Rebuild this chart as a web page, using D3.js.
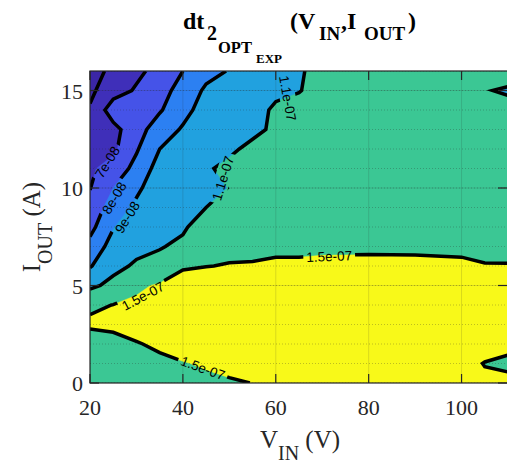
<!DOCTYPE html>
<html><head><meta charset="utf-8">
<script src="https://cdn.jsdelivr.net/npm/d3@7"></script>
<style>body{margin:0;background:#fff}svg{display:block}</style>
</head><body>
<svg id="chart" width="507" height="474"></svg>
<script>
// ---------- data ----------
const vinValues = [20, 25, 30, 35, 40, 45, 50, 55, 60, 65, 70, 80, 90, 100, 105, 110];
const ioutValues = [0, 1, 2, 3, 4, 5, 6, 7, 8, 9, 10, 11, 12, 13, 14, 15, 16];
// dt2_OPT_EXP in ns, one profile (I_OUT = 0..16 A) per V_IN column
const dt2V20  = [123, 125, 130, 156, 144, 102, 89, 83, 77, 73, 69.7, 68.5, 67, 65, 61, 58, 55];
const dt2V25  = [126, 130, 138, 158, 150.5, 120, 100, 94, 89.5, 85, 80, 74, 68, 67, 75, 66, 63];
const dt2V30  = [130, 138, 148.5, 160, 156, 144, 115, 100, 96, 92, 88, 83, 79, 76, 73, 71, 68];
const dt2V35  = [133, 145, 154, 162, 160, 154, 120, 108, 102, 98, 96, 94, 90, 85, 79, 76, 73];
const dt2V40  = [146, 149, 158, 163, 163, 158, 148, 116, 106, 102, 100, 98, 95, 91, 87, 84, 80];
const dt2V45  = [146, 152, 160, 164, 165, 162, 149.5, 140, 125, 110, 105, 108, 100, 97, 94, 91.5, 87];
const dt2V50  = [148.5, 154, 161, 165, 166, 164, 151, 145, 135, 123, 110.5, 114, 107, 102, 98, 94, 90.5];
const dt2V55  = [150.2, 156, 162, 166, 167, 165, 151.5, 145, 138, 130, 124, 119, 114, 106, 103, 100, 97];
const dt2V60  = [155, 160, 164, 167, 168, 166, 154, 145, 139, 133, 128, 124, 120, 113, 113, 106, 107];
const dt2V65  = [156, 160, 164, 167, 168, 166, 155, 144, 139, 135, 132, 130, 128, 124, 118, 109, 108];
const dt2V70  = [157, 161, 165, 168, 169, 167, 156, 145, 140, 137, 134, 132, 130, 127, 124, 118, 116];
const dt2V80  = [158, 162, 166, 169, 170, 168, 157, 145, 141, 138, 136, 134, 132, 130, 128, 125, 123];
const dt2V90  = [158, 162, 166, 169, 170, 168, 156.5, 145, 141, 138, 136, 134, 132, 130, 128, 125, 123];
const dt2V100 = [157, 161, 165, 168, 169, 167, 155, 144, 140, 137, 135, 133, 131, 128, 124, 120, 120];
const dt2V105 = [156, 148.8, 164, 167, 168, 165, 151.5, 142, 139, 136, 134, 132, 130, 127, 123, 112.6, 118];
const dt2V110 = [159, 143, 159.3, 166, 167, 164, 151.5, 141, 138, 135, 133, 131, 129, 127, 125, 105, 130];
const dt2ByVin = [dt2V20, dt2V25, dt2V30, dt2V35, dt2V40, dt2V45, dt2V50, dt2V55, dt2V60,
                  dt2V65, dt2V70, dt2V80, dt2V90, dt2V100, dt2V105, dt2V110];
const contourLevels = [6e-8, 7e-8, 8e-8, 9e-8, 1.1e-7, 1.5e-7];
const bandColors = ["#3b26a6", "#3f2fb9", "#4553e8", "#2c80f2", "#21a1df", "#3bc794", "#f8f919"];
const xTickValues = [20, 40, 60, 80, 100];
const yTickValues = [0, 5, 10, 15];
// contour labels: level, position (V_IN, I_OUT) and text angle
const contourLabelLevels = [7e-8, 8e-8, 9e-8, 1.1e-7, 1.1e-7, 1.5e-7, 1.5e-7, 1.5e-7];
const contourLabelVin    = [23.7, 25.2, 28.0, 48.6, 62.6, 31.4, 44.3, 71.5];
const contourLabelIout   = [11.33, 9.49, 8.5, 10.5, 14.6, 4.46, 0.77, 6.5];
const contourLabelAngle  = [-58, -59, -58, -73, 80, -28, 20, -2];

// ---------- layout ----------
const svg = d3.select("#chart");
const x = d3.scaleLinear().domain([20, 110]).range([90, 508]);
const y = d3.scaleLinear().domain([0, 16]).range([383, 71]);
const nx = vinValues.length, ny = ioutValues.length;
const idxToVin = d3.scaleLinear().domain(d3.range(nx)).range(vinValues);
const idxToIout = d3.scaleLinear().domain(d3.range(ny)).range(ioutValues);

const grid = new Array(nx * ny);
for (let j = 0; j < ny; j++) for (let i = 0; i < nx; i++) grid[j * nx + i] = dt2ByVin[i][j] * 1e-9;

const clampIdx = (g, n) => Math.max(0, Math.min(n - 1, g - 0.5));
const toPx = (p) => [x(idxToVin(clampIdx(p[0], nx))), y(idxToIout(clampIdx(p[1], ny)))];
const proj = d3.geoTransform({point(px, py) { const q = toPx([px, py]); this.stream.point(q[0], q[1]); }});
const geo = d3.geoPath(proj);

const contours = d3.contours().size([nx, ny]).thresholds(contourLevels)(grid);

const defs = svg.append("defs");
defs.append("clipPath").attr("id", "plotclip").append("rect")
  .attr("x", 90).attr("y", 71).attr("width", 418).attr("height", 312);

const plot = svg.append("g").attr("clip-path", "url(#plotclip)");
plot.append("rect").attr("x", 90).attr("y", 71).attr("width", 418).attr("height", 312)
  .attr("fill", bandColors[0]);
plot.selectAll("path.band").data(contours).join("path").attr("class", "band")
  .attr("d", geo).attr("fill", (d, k) => bandColors[k + 1]).attr("fill-rule", "evenodd")
  .attr("stroke", (d, k) => bandColors[k + 1]).attr("stroke-width", 0.5);

// grid
const gridG = plot.append("g");
gridG.selectAll("line.ymin").data(y.ticks(16)).join("line")
  .attr("x1", 90).attr("x2", 508).attr("y1", d => y(d)).attr("y2", d => y(d))
  .attr("stroke", "rgba(38,38,38,0.28)").attr("stroke-width", 1).attr("stroke-dasharray", "1,2");
gridG.selectAll("line.ymaj").data(yTickValues).join("line")
  .attr("x1", 90).attr("x2", 508).attr("y1", d => y(d)).attr("y2", d => y(d))
  .attr("stroke", "rgba(38,38,38,0.15)").attr("stroke-width", 1);
gridG.selectAll("line.xmaj").data(xTickValues).join("line")
  .attr("y1", 71).attr("y2", 383).attr("x1", d => x(d)).attr("x2", d => x(d))
  .attr("stroke", "rgba(38,38,38,0.15)").attr("stroke-width", 1);

// contour labels (text) and line mask
const fmt = v => v.toExponential(v === 1.1e-7 || v === 1.5e-7 ? 1 : 0).replace(/e([+-])(\d)$/, "e$10$2");
const labelG = svg.append("g").attr("clip-path", "url(#plotclip)");
const labels = labelG.selectAll("text").data(contourLabelLevels).join("text")
  .attr("transform", (d, i) => `translate(${x(contourLabelVin[i])},${y(contourLabelIout[i])}) rotate(${contourLabelAngle[i]})`)
  .attr("text-anchor", "middle").attr("dy", "0.36em")
  .attr("font-family", "Liberation Sans, Arial, sans-serif").attr("font-size", 13.5)
  .attr("fill", "#000").text(d => fmt(d));

const mask = defs.append("mask").attr("id", "lblmask").attr("maskUnits", "userSpaceOnUse")
  .attr("x", 0).attr("y", 0).attr("width", 507).attr("height", 474);
mask.append("rect").attr("x", 0).attr("y", 0).attr("width", 507).attr("height", 474).attr("fill", "#fff");
labels.each(function(d, i) {
  const w = this.getComputedTextLength() + 6;
  mask.append("rect").attr("x", -w / 2).attr("y", -8).attr("width", w).attr("height", 16)
    .attr("transform", `translate(${x(contourLabelVin[i])},${y(contourLabelIout[i])}) rotate(${contourLabelAngle[i]})`)
    .attr("fill", "#000");
});

// contour lines (skip segments lying on the plot border)
function linePath(c) {
  let d = "";
  for (const poly of c.coordinates) for (const ring of poly) {
    let pen = false;
    for (let k = 0; k < ring.length - 1; k++) {
      const a = ring[k], b = ring[k + 1];
      const ax = clampIdx(a[0], nx), ay = clampIdx(a[1], ny), bx = clampIdx(b[0], nx), by = clampIdx(b[1], ny);
      const onBorder = (ax === 0 && bx === 0) || (ax === nx - 1 && bx === nx - 1) ||
                       (ay === 0 && by === 0) || (ay === ny - 1 && by === ny - 1);
      if (onBorder) { pen = false; continue; }
      const pa = toPx(a), pb = toPx(b);
      if (!pen) { d += `M${pa[0]},${pa[1]}`; pen = true; }
      d += `L${pb[0]},${pb[1]}`;
    }
  }
  return d;
}
const linesG = plot.append("g").attr("mask", "url(#lblmask)");
linesG.selectAll("path").data(contours).join("path")
  .attr("d", linePath).attr("fill", "none").attr("stroke", "#000")
  .attr("stroke-width", 3.5).attr("stroke-linejoin", "miter").attr("stroke-miterlimit", 4);
labelG.raise();

// frame and ticks
const axisColor = "#262626";
svg.append("rect").attr("x", 90).attr("y", 71).attr("width", 418).attr("height", 312)
  .attr("fill", "none").attr("stroke", axisColor).attr("stroke-width", 1.2);
const tl = 9;
svg.selectAll("line.xtb").data(xTickValues).join("line")
  .attr("x1", d => x(d)).attr("x2", d => x(d)).attr("y1", 383).attr("y2", 383 - tl)
  .attr("stroke", axisColor).attr("stroke-width", 1.2);
svg.selectAll("line.xtt").data(xTickValues).join("line")
  .attr("x1", d => x(d)).attr("x2", d => x(d)).attr("y1", 71).attr("y2", 71 + tl)
  .attr("stroke", axisColor).attr("stroke-width", 1.2);
svg.selectAll("line.ytl").data(yTickValues).join("line")
  .attr("y1", d => y(d)).attr("y2", d => y(d)).attr("x1", 90).attr("x2", 90 + tl)
  .attr("stroke", axisColor).attr("stroke-width", 1.2);
svg.selectAll("line.ytr").data(yTickValues).join("line")
  .attr("y1", d => y(d)).attr("y2", d => y(d)).attr("x1", 507).attr("x2", 507 - tl)
  .attr("stroke", axisColor).attr("stroke-width", 1.2);

const serif = "Liberation Serif, Times New Roman, serif";
svg.selectAll("text.xt").data(xTickValues).join("text").attr("class", "xt")
  .attr("x", d => x(d)).attr("y", 415).attr("text-anchor", "middle")
  .attr("font-family", serif).attr("font-size", 22).attr("fill", "#262626").text(d => d);
svg.selectAll("text.yt").data(yTickValues).join("text").attr("class", "yt")
  .attr("x", 83).attr("y", d => y(d) + 8).attr("text-anchor", "end")
  .attr("font-family", serif).attr("font-size", 22).attr("fill", "#262626").text(d => d);

// axis labels
const xl = svg.append("text").attr("x", 300).attr("y", 448).attr("text-anchor", "middle")
  .attr("font-family", serif).attr("font-size", 25).attr("fill", "#262626");
xl.append("tspan").text("V");
xl.append("tspan").attr("font-size", 20).attr("dy", 12).text("IN");
xl.append("tspan").attr("dy", -12).text(" (V)");

const yl = svg.append("text").attr("transform", "translate(40,227) rotate(-90)").attr("text-anchor", "middle")
  .attr("font-family", serif).attr("font-size", 25).attr("fill", "#262626");
yl.append("tspan").text("I");
yl.append("tspan").attr("font-size", 20).attr("dy", 12).text("OUT");
yl.append("tspan").attr("dy", -12).text(" (A)");

// title (pieces placed at their positions)
const tt = svg.append("text").attr("font-family", serif).attr("font-weight", "bold").attr("fill", "#000");
const titleParts = [
  {t: "dt", x: 183, y: 29, s: 24}, {t: "2", x: 207, y: 40, s: 20},
  {t: "OPT", x: 218, y: 53, s: 16.5}, {t: "EXP", x: 256, y: 63, s: 13},
  {t: "(V", x: 290, y: 29, s: 24}, {t: "IN", x: 319, y: 39.5, s: 19},
  {t: ",I", x: 341, y: 29, s: 24}, {t: "OUT", x: 364, y: 39.5, s: 19},
  {t: ")", x: 408, y: 29, s: 24}
];
tt.selectAll("tspan").data(titleParts).join("tspan")
  .attr("x", d => d.x).attr("y", d => d.y).attr("font-size", d => d.s).text(d => d.t);
</script>
</body></html>
